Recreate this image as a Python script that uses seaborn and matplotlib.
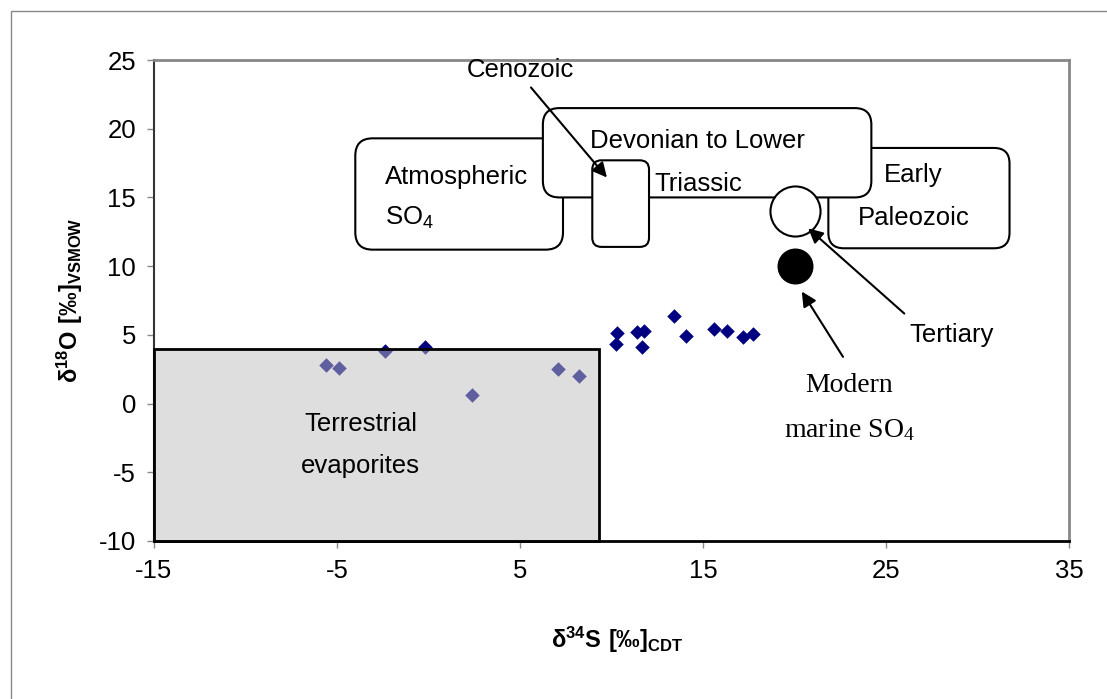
import matplotlib
matplotlib.use('Agg')
import matplotlib.pyplot as plt
import seaborn as sns
import numpy as np
import pandas as pd
from matplotlib.patches import FancyBboxPatch, Rectangle

d34s = [-5.6, -4.9, -2.4, -0.2, 2.4, 7.1, 8.2,
        10.3, 10.25, 11.4, 11.75, 11.65, 13.4, 14.05, 15.6, 16.3, 17.2, 17.75]
d18o = [2.8, 2.6, 3.85, 4.1, 0.6, 2.5, 2.0,
        5.15, 4.35, 5.2, 5.3, 4.15, 6.35, 4.9, 5.4, 5.3, 4.85, 5.05]

# Références : Tertiaire (cercle vide) et sulfate marin moderne (cercle plein)
tert_x, tert_y = [20], [14]
modern_x, modern_y = [20], [10]

# Domaines (x0, x1, y0, y1)
terrestrial = (-15, 9.3, -10, 4)
atmospheric = (-4.0, 7.35, 11.2, 19.3)
devonian = (6.25, 24.2, 15.0, 21.5)
cenozoic = (8.95, 12.05, 11.4, 17.7)
early_paleo = (21.85, 31.75, 11.3, 18.6)

x_ticks = [-15, -5, 5, 15, 25, 35]
y_ticks = [-10, -5, 0, 5, 10, 15, 20, 25]

sns.set_style('white')
plt.rcParams['font.family'] = ['Liberation Sans', 'DejaVu Sans']
plt.rcParams['axes.unicode_minus'] = False
plt.rcParams['text.color'] = 'black'
plt.rcParams['axes.labelcolor'] = 'black'
plt.rcParams['xtick.color'] = 'black'
plt.rcParams['ytick.color'] = 'black'

fig = plt.figure(figsize=(11.07, 6.99), dpi=100)
ax = fig.add_axes([154 / 1107, 1 - 541 / 699, 915 / 1107, 481 / 699])

# Points de mesure
df = pd.DataFrame({'d34S': d34s, 'd18O': d18o})
sns.scatterplot(data=df, x='d34S', y='d18O', marker='D', color='#000080',
                s=55, linewidth=0, ax=ax, zorder=3)

# Rectangle des évaporites terrestres (semi-transparent, par-dessus les points)
x0, x1, y0, y1 = terrestrial
ax.add_patch(Rectangle((x0, y0), x1 - x0, y1 - y0, facecolor=(0.75, 0.75, 0.75, 0.5),
                       edgecolor='black', linewidth=2, zorder=4, clip_on=False))

# Boîtes arrondies
aspect = (915 / 50) / (481 / 35)


def rounded_box(b, r, z):
    bx0, bx1, by0, by1 = b
    p = FancyBboxPatch((bx0, by0), bx1 - bx0, by1 - by0,
                       boxstyle=f'round,pad=0,rounding_size={r}',
                       mutation_aspect=aspect, facecolor='white',
                       edgecolor='black', linewidth=1.5, zorder=z)
    ax.add_patch(p)


rounded_box(atmospheric, 0.95, 5)
rounded_box(early_paleo, 0.85, 5)
rounded_box(devonian, 0.9, 6)
rounded_box(cenozoic, 0.5, 7)

# Cercles de référence
sns.scatterplot(x=tert_x, y=tert_y, marker='o', s=1300, color='white',
                edgecolor='black', linewidth=1.5, ax=ax, zorder=8)
sns.scatterplot(x=modern_x, y=modern_y, marker='o', s=620, color='black',
                edgecolor='black', linewidth=1, ax=ax, zorder=8)

# Textes
fs = 18.5
ax.text(-2.4, 16.5, 'Atmospheric', fontsize=fs, ha='left', va='center', zorder=10)
ax.text(-2.4, 13.5, r'$\mathregular{SO_4}$', fontsize=fs, ha='left', va='center', zorder=10)
ax.text(14.7, 19.1, 'Devonian to Lower', fontsize=fs, ha='center', va='center', zorder=10)
ax.text(14.75, 16.0, 'Triassic', fontsize=fs, ha='center', va='center', zorder=10)
ax.text(26.5, 16.65, 'Early', fontsize=fs, ha='center', va='center', zorder=10)
ax.text(26.5, 13.5, 'Paleozoic', fontsize=fs, ha='center', va='center', zorder=10)
ax.text(-3.7, -1.5, 'Terrestrial', fontsize=fs, ha='center', va='center', zorder=10)
ax.text(-3.7, -4.55, 'evaporites', fontsize=fs, ha='center', va='center', zorder=10)

arrow = dict(arrowstyle='-|>', color='black', lw=1.5, mutation_scale=22,
             shrinkA=0, shrinkB=0)
ax.text(5.0, 24.3, 'Cenozoic', fontsize=fs, ha='center', va='center', zorder=10)
ax.annotate('', xy=(9.75, 16.45), xytext=(5.6, 23.0), arrowprops=arrow, zorder=10)
ax.text(28.6, 5.0, 'Tertiary', fontsize=fs, ha='center', va='center', zorder=10)
ax.annotate('', xy=(20.75, 12.75), xytext=(26.0, 6.55), arrowprops=arrow, zorder=10)
ax.annotate('', xy=(20.4, 8.15), xytext=(22.65, 3.4), arrowprops=arrow, zorder=10)
ax.text(23.0, 1.28, 'Modern', fontsize=20, ha='center', va='center',
        family=['Liberation Serif', 'DejaVu Serif'], zorder=10)
ax.text(23.0, -1.92, r'marine $\mathregular{SO_4}$', fontsize=20, ha='center', va='center',
        family=['Liberation Serif', 'DejaVu Serif'], zorder=10)

# Axes
ax.set_xlim(-15, 35)
ax.set_ylim(-10, 25)
ax.set_xticks(x_ticks)
ax.set_yticks(y_ticks)
ax.tick_params(axis='both', labelsize=18.5, direction='out', length=5, width=1,
               color='#888888', labelcolor='black', pad=8, bottom=True, left=True)
ax.set_xlabel(r'$\mathregular{δ^{34}S\ [‰]_{CDT}}$', fontsize=17, fontweight='bold')
ax.set_ylabel(r'$\mathregular{δ^{18}O\ [‰]_{VSMOW}}$', fontsize=17, fontweight='bold')
ax.xaxis.set_label_coords(0.506, -0.175)
ax.yaxis.set_label_coords(-0.075, 0.5)

for s in ['top', 'right']:
    ax.spines[s].set_color('#888888')
    ax.spines[s].set_linewidth(2)
ax.spines['left'].set_color('#333333')
ax.spines['left'].set_linewidth(1.5)
ax.spines['bottom'].set_color('black')
ax.spines['bottom'].set_linewidth(2)

# Cadre du graphique
fig.add_artist(Rectangle((11 / 1107, -0.1), 1.2, 1.1 - 11 / 699, transform=fig.transFigure,
                         fill=False, edgecolor='#888888', linewidth=1))

fig.savefig('out.png', dpi=100)
